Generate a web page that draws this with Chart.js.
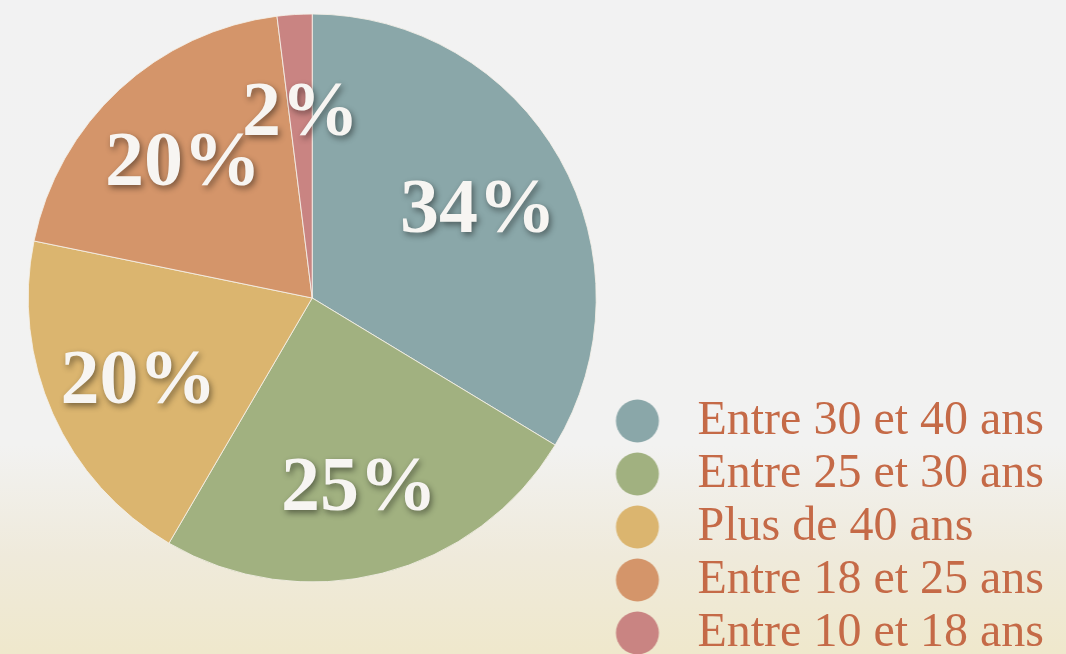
<!DOCTYPE html>
<html>
<head>
<meta charset="utf-8">
<script src="https://cdn.jsdelivr.net/npm/chart.js@4/dist/chart.umd.min.js"></script>
<style>
  html, body { margin: 0; padding: 0; width: 1066px; height: 654px; overflow: hidden;
    background: linear-gradient(to bottom, #f2f2f2 0%, #f2f2f1 68%, #efeadb 85%, #efe8cc 100%); }
  #wrap { position: absolute; left: 0; top: -66px; width: 1066px; height: 728px; }
</style>
</head>
<body>
<div id="wrap"><canvas id="c" width="1066" height="728"></canvas></div>
<script>
const categories = ["Entre 30 et 40 ans", "Entre 25 et 30 ans", "Plus de 40 ans", "Entre 18 et 25 ans", "Entre 10 et 18 ans"];
const values = [34, 25, 20, 20, 2];
const colors = ["#8aa7a9", "#a1b180", "#dbb56f", "#d4956a", "#c98482"];

function dotImage(color) {
  const cv = document.createElement('canvas');
  cv.width = 80; cv.height = 46;
  const g = cv.getContext('2d');
  g.fillStyle = color;
  g.beginPath();
  g.arc(32, 23, 21.5, 0, Math.PI * 2);
  g.fill();
  return cv;
}
const dots = colors.map(dotImage);

const pctLabels = {
  id: 'pctLabels',
  afterDatasetsDraw(chart) {
    const ctx = chart.ctx;
    const meta = chart.getDatasetMeta(0);
    const ds = chart.data.datasets[0];
    ctx.save();
    ctx.font = 'bold 78px "Liberation Serif", serif';
    ctx.textAlign = 'center';
    ctx.textBaseline = 'middle';
    ctx.fillStyle = '#f7f5f2';
    ctx.shadowColor = 'rgba(0,0,0,0.45)';
    ctx.shadowBlur = 6;
    ctx.shadowOffsetX = 2;
    ctx.shadowOffsetY = 3;
    meta.data.forEach((arc, i) => {
      const p = arc.getProps(['x', 'y', 'startAngle', 'endAngle', 'outerRadius'], true);
      const mid = (p.startAngle + p.endAngle) / 2;
      const r = p.outerRadius * 0.67;
      ctx.fillText(ds.data[i] + '%', p.x + Math.cos(mid) * r, p.y + Math.sin(mid) * r + 7);
    });
    ctx.restore();
  }
};

new Chart(document.getElementById('c'), {
  type: 'pie',
  data: {
    labels: categories,
    datasets: [{
      data: values,
      backgroundColor: colors,
      borderColor: 'rgba(245,240,232,0.85)',
      borderWidth: 1,
      radius: 284
    }]
  },
  options: {
    responsive: false,
    animation: false,
    layout: { padding: { left: 12, right: 12, top: 0, bottom: 0 } },
    plugins: {
      tooltip: { enabled: false },
      legend: {
        position: 'right',
        align: 'end',
        labels: {
          usePointStyle: true,
          pointStyleWidth: 56,
          boxWidth: 56,
          boxHeight: 30,
          padding: 5,
          color: '#c56a47',
          font: { family: '"Liberation Serif", serif', size: 48 },
          generateLabels(chart) {
            const items = Chart.overrides.pie.plugins.legend.labels.generateLabels(chart);
            items.forEach((it, i) => { it.pointStyle = dots[i]; it.lineWidth = 0; });
            return items;
          }
        }
      }
    }
  },
  plugins: [pctLabels]
});
</script>
</body>
</html>
